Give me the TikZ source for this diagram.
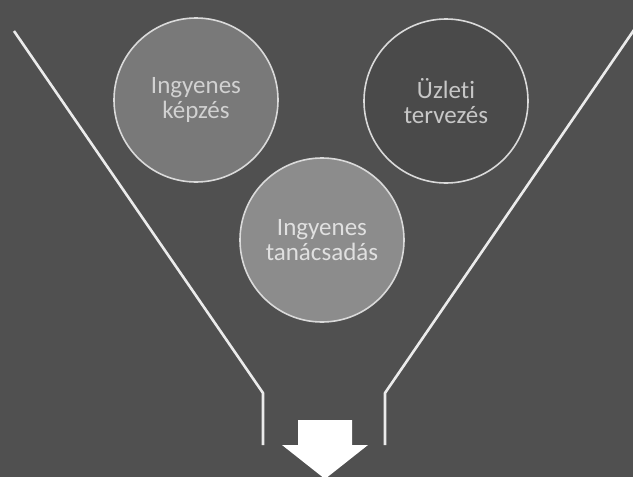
\documentclass[tikz,border=0pt]{standalone}
\usepackage{fontspec}
\setmainfont[Ligatures=NoCommon]{Carlito}
\definecolor{bgcolor}{HTML}{505050}
\definecolor{rimcolor}{HTML}{DADADA}
\usepackage{tikz}

\begin{document}
\begin{tikzpicture}[x=1pt,y=-1pt,
  c/.style={circle, draw=rimcolor, line width=1.6pt, minimum size=164pt, inner sep=0pt,
            font=\fontsize{25}{25}\selectfont, align=center},
  wall/.style={draw=white!92!black, line width=2.6pt, line join=round}
]
% ---- background ----
\fill[bgcolor] (0,0) rectangle (633,477);
\useasboundingbox (0,0) rectangle (633,477);

% ===== CIRCLES =====
\node[c, fill=gray!95!black, text=white!82!black] (kepzes) at (196,100) {Ingyenes\\képzés};
\node[c, fill=bgcolor!92!black, text=white!78!black] (uzleti) at (446,101) {Üzleti\\tervezés};
\node[c, fill=white!55!black, text=white!88!black] (tanacs) at (322,240) {Ingyenes\\tanácsadás};

% ===== FUNNEL =====
\coordinate (lt) at (14,31);   \coordinate (lb) at (263,393);  \coordinate (le) at (263,445);
\coordinate (rt) at (636,27);  \coordinate (rb) at (385,393);  \coordinate (re) at (385,445);
\draw[wall] (lt) -- (lb) -- (le);
\draw[wall] (rt) -- (rb) -- (re);

% ===== ARROW =====
\fill[white] (298,420) -- (352,420) -- (352,445) -- (368,445) -- (325,479)
  -- (282,445) -- (298,445) -- cycle;

\end{tikzpicture}
\end{document}
